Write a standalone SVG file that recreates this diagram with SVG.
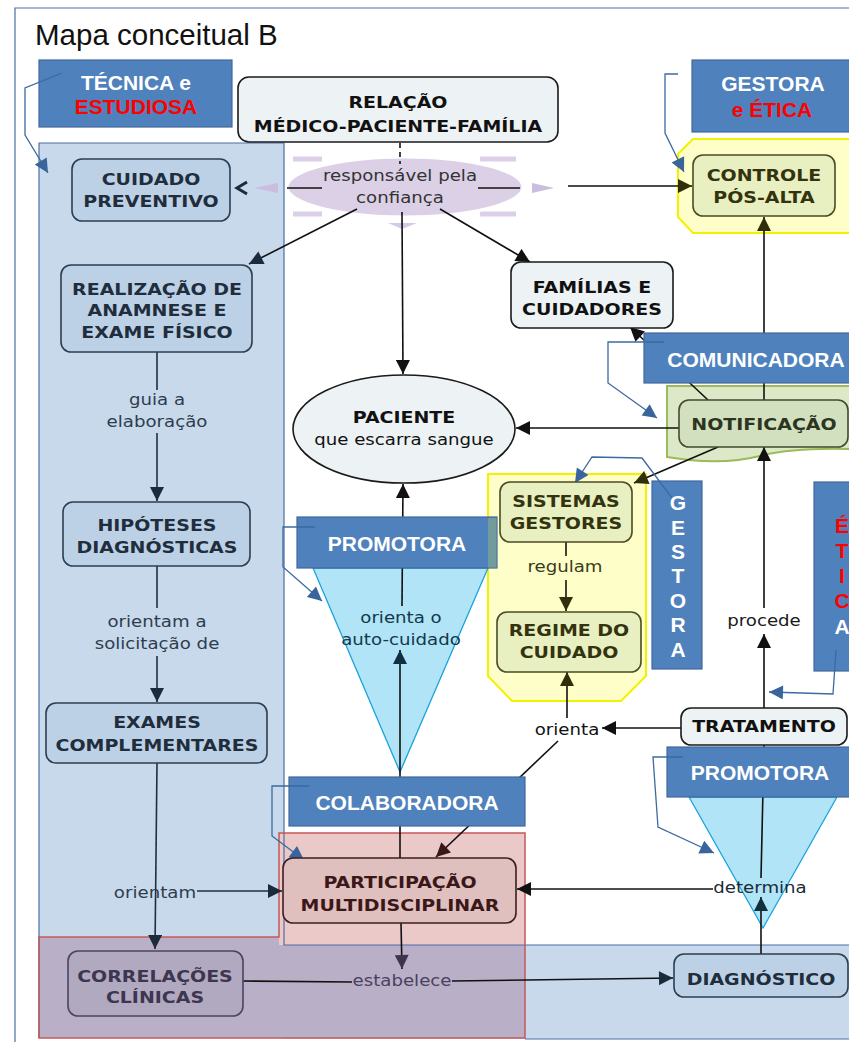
<svg xmlns="http://www.w3.org/2000/svg" width="849" height="1042" viewBox="0 0 849 1042">
<style>
.v{font-family:"DejaVu Sans",Verdana,sans-serif;text-anchor:middle;transform-box:fill-box;transform-origin:center;transform:scaleX(1.15)}
.b{font-weight:bold;font-size:16.5px}
.r{font-size:15.8px}
.a{font-family:"Liberation Sans",Arial,sans-serif;font-weight:bold;font-size:21px;text-anchor:middle;fill:#fff}
.red{fill:#f00}
.bl{fill:#4f81bd;stroke:#41689c;stroke-width:1.2}
.ln{fill:none;stroke:#111;stroke-width:1.6}
.lnN{fill:none;stroke:#1f2f40;stroke-width:1.6}
.co{fill:none;stroke:#3d6aa0;stroke-width:1.3;marker-end:url(#aB)}
.nl{fill:#edf2f4;stroke:#1a1a1a;stroke-width:1.6}
.nb{fill:#bdd1e6;stroke:#2c3e50;stroke-width:1.6}
.ny{fill:#e8efc0;stroke:#4b4b25;stroke-width:1.6}
.tk{fill:#111}
.tn{fill:#1f2d3d}
.ty{fill:#33330f}
</style>
<defs>
<marker id="aK" viewBox="0 0 10 10" refX="10" refY="5" markerWidth="15" markerHeight="14" markerUnits="userSpaceOnUse" orient="auto"><path d="M0,0L10,5L0,10z" fill="#111"/></marker>
<marker id="aN" viewBox="0 0 10 10" refX="10" refY="5" markerWidth="15" markerHeight="14" markerUnits="userSpaceOnUse" orient="auto"><path d="M0,0L10,5L0,10z" fill="#1c2b3c"/></marker>
<marker id="aO" viewBox="0 0 10 10" refX="10" refY="5" markerWidth="15" markerHeight="14" markerUnits="userSpaceOnUse" orient="auto"><path d="M0,0L10,5L0,10z" fill="#2f2f0c"/></marker>
<marker id="aM" viewBox="0 0 10 10" refX="10" refY="5" markerWidth="15" markerHeight="14" markerUnits="userSpaceOnUse" orient="auto"><path d="M0,0L10,5L0,10z" fill="#3a1818"/></marker>
<marker id="aT" viewBox="0 0 10 10" refX="10" refY="5" markerWidth="15" markerHeight="14" markerUnits="userSpaceOnUse" orient="auto"><path d="M0,0L10,5L0,10z" fill="#10303f"/></marker>
<marker id="aP" viewBox="0 0 10 10" refX="10" refY="5" markerWidth="15" markerHeight="14" markerUnits="userSpaceOnUse" orient="auto"><path d="M0,0L10,5L0,10z" fill="#3d3550"/></marker>
<marker id="aB" viewBox="0 0 10 10" refX="10" refY="5" markerWidth="16" markerHeight="14" markerUnits="userSpaceOnUse" orient="auto"><path d="M0,0L10,5L0,10z" fill="#3a659c"/></marker>
</defs>
<rect width="849" height="1042" fill="#fff"/>
<g id="frame">
<path d="M15,1042V8H849" fill="none" stroke="#4a6fa5" stroke-width="1.2"/>
<text x="35" y="45" font-family="Liberation Sans, Arial, sans-serif" font-size="29.5" fill="#111">Mapa conceitual B</text>
</g>
<g id="panels">
<rect x="39" y="143" width="245" height="895" fill="#c8d9ec"/>
<rect x="284" y="945" width="590" height="94" fill="#c8d9ec"/>
<path d="M39,937H279V945H525V1038H39Z" fill="#b9b0c8"/>
<rect x="279" y="833" width="246" height="112" fill="#ecc9c9"/>
<path d="M39,1038V143H284V945H874" fill="none" stroke="#4a6fa5" stroke-width="1.2"/>
<path d="M39,937H279V833H525V1038H39Z" fill="none" stroke="#c45a58" stroke-width="1.5"/>
<path d="M525,1039H874" fill="none" stroke="#4a6fa5" stroke-width="1.2"/>
</g>
<g id="regions">
<path d="M667,386H870V450Q800,446 760,456Q720,466 667,457Z" fill="#dde8c8" stroke="#9bbb59" stroke-width="2"/>
<polygon points="488,474 646,474 646,676 621,701 512,701 488,676" fill="#fefec8" stroke="#f2f200" stroke-width="2"/>
<polygon points="693,139 870,139 870,233 693,233 678,217 678,154" fill="#fefec8" stroke="#f2f200" stroke-width="2"/>
<polygon points="313,568 488,568 400,772" fill="#b0e4f6" stroke="#17a3de" stroke-width="1.3"/>
<polygon points="689,797 837,797 763,928" fill="#b0e4f6" stroke="#17a3de" stroke-width="1.3"/>
</g>
<g id="label-confianca">
<path d="M293,159H322M480,159H516M293,214H322M480,214H516" stroke="#dccfe8" stroke-width="5"/>
<ellipse cx="405" cy="187" rx="118" ry="30" fill="#dcd0e7" stroke="#fff" stroke-width="3"/>
<polygon points="254,188 278,183 278,193" fill="#cbbde0"/>
<polygon points="554,188 532,183 532,193" fill="#cbbde0"/>
<polygon points="388,223 417,223 402,229" fill="#d6c9e4"/>
<text class="v r" x="400" y="181" fill="#333">responsável pela</text>
<text class="v r" x="400" y="203" fill="#333">confiança</text>
</g>
<g id="connectors">
<line class="ln" x1="400" y1="143" x2="400" y2="164" stroke-dasharray="5 4"/>
<line class="ln" x1="287" y1="188" x2="322" y2="188"/>
<polyline points="247,182 237,188 247,194" fill="none" stroke="#1c2b3c" stroke-width="3"/>
<line class="ln" x1="478" y1="188" x2="520" y2="188"/>
<line class="ln" x1="568" y1="186" x2="692" y2="186" marker-end="url(#aO)"/>
<line class="ln" x1="357" y1="209" x2="249" y2="264" marker-end="url(#aN)"/>
<line class="ln" x1="440" y1="209" x2="530" y2="262" marker-end="url(#aK)"/>
<line class="ln" x1="402" y1="212" x2="403" y2="374" marker-end="url(#aK)"/>
<line class="ln" x1="679" y1="428" x2="516" y2="428" marker-end="url(#aK)"/>
<line class="ln" x1="708" y1="400" x2="630" y2="327" marker-end="url(#aK)"/>
<line class="ln" x1="764" y1="400" x2="764" y2="217" marker-end="url(#aO)"/>
<line class="ln" x1="718" y1="447" x2="634" y2="483" marker-end="url(#aO)"/>
<line class="ln" x1="566" y1="542" x2="566" y2="556" stroke="#3b3b1c"/>
<line class="ln" x1="566" y1="580" x2="566" y2="611" stroke="#3b3b1c" marker-end="url(#aO)"/>
<line class="ln" x1="764" y1="708" x2="764" y2="634" marker-end="url(#aK)"/>
<line class="ln" x1="764" y1="608" x2="764" y2="447" marker-end="url(#aK)"/>
<line class="ln" x1="681" y1="728" x2="602" y2="728" marker-end="url(#aK)"/>
<line class="ln" x1="567" y1="718" x2="567" y2="672" marker-end="url(#aO)"/>
<line class="ln" x1="558" y1="741" x2="436" y2="857" marker-end="url(#aM)"/>
<line class="ln" x1="400" y1="858" x2="400" y2="650" stroke="#10303f" marker-end="url(#aT)"/>
<line class="ln" x1="402" y1="606" x2="403" y2="484" marker-end="url(#aK)"/>
<line class="ln" x1="761" y1="954" x2="761" y2="897" stroke="#10303f" marker-end="url(#aT)"/>
<line class="ln" x1="761" y1="878" x2="764" y2="745" stroke="#10303f"/>
<line class="ln" x1="713" y1="889" x2="517" y2="889" marker-end="url(#aK)"/>
<line class="ln" x1="401" y1="923" x2="402" y2="969" stroke="#3d3550" marker-end="url(#aP)"/>
<line class="ln" x1="243" y1="981" x2="352" y2="982" stroke="#3d3550"/>
<line class="ln" x1="452" y1="981" x2="673" y2="978" stroke="#1f2f40" marker-end="url(#aN)"/>
<line class="lnN" x1="157" y1="352" x2="157" y2="390"/>
<line class="lnN" x1="157" y1="433" x2="157" y2="501" marker-end="url(#aN)"/>
<line class="lnN" x1="157" y1="566" x2="157" y2="608"/>
<line class="lnN" x1="157" y1="656" x2="157" y2="702" marker-end="url(#aN)"/>
<line class="lnN" x1="157" y1="763" x2="155" y2="949" marker-end="url(#aN)"/>
<line class="lnN" x1="197" y1="891" x2="282" y2="891" marker-end="url(#aN)"/>
<text class="v r" x="157" y="405" fill="#2e3d4d">guia a</text>
<text class="v r" x="157" y="427" fill="#2e3d4d">elaboração</text>
<text class="v r" x="157" y="627" fill="#2e3d4d">orientam a</text>
<text class="v r" x="157" y="649" fill="#2e3d4d">solicitação de</text>
<text class="v r" x="155" y="898" fill="#2e3d4d">orientam</text>
<text class="v r" x="565" y="572" fill="#3b3b1c">regulam</text>
<text class="v r" x="764" y="626" fill="#1a1a1a">procede</text>
<text class="v r" x="567" y="735" fill="#111">orienta</text>
<text class="v r" x="401" y="623" fill="#13394a">orienta o</text>
<text class="v r" x="401" y="645" fill="#13394a">auto-cuidado</text>
<text class="v r" x="760" y="893" fill="#1b2b35">determina</text>
<text class="v r" x="402" y="986" fill="#4a4060">estabelece</text>
</g>
<g id="b-tecnica"><rect class="bl" x="39" y="60" width="193" height="67"/><text class="a" x="136" y="90">TÉCNICA e</text><text class="a red" x="136" y="114">ESTUDIOSA</text></g>
<g id="b-gestora-etica"><rect class="bl" x="692" y="60" width="165" height="72"/><text class="a" x="773" y="91">GESTORA</text><text class="a red" x="772" y="117">e ÉTICA</text></g>
<g id="b-comunicadora"><rect class="bl" x="644" y="333" width="224" height="50"/><text class="a" x="756" y="367">COMUNICADORA</text></g>
<g id="b-promotora1"><rect class="bl" x="297" y="517" width="200" height="51"/><rect x="488" y="518" width="8.5" height="49.5" fill="#729c9c"/><text class="a" x="397" y="551">PROMOTORA</text></g>
<g id="b-gestora-v"><rect class="bl" x="652" y="481" width="50" height="188"/>
<text class="a" x="678" y="510">G</text><text class="a" x="678" y="535">E</text><text class="a" x="678" y="559">S</text><text class="a" x="678" y="583">T</text><text class="a" x="678" y="608">O</text><text class="a" x="678" y="632">R</text><text class="a" x="678" y="657">A</text></g>
<g id="b-etica-v"><rect class="bl" x="814" y="482" width="58" height="189"/>
<text class="a red" x="842" y="533">É</text><text class="a red" x="842" y="558">T</text><text class="a red" x="842" y="583">I</text><text class="a red" x="842" y="608">C</text><text class="a" x="842" y="634">A</text></g>
<g id="b-promotora2"><rect class="bl" x="667" y="747" width="187" height="50"/><text class="a" x="760" y="780">PROMOTORA</text></g>
<g id="b-colaboradora"><rect class="bl" x="289" y="777" width="236" height="49"/><text class="a" x="407" y="810">COLABORADORA</text></g>
<g id="callouts">
<path class="co" d="M62,73L25,88L25,135L48,173"/>
<path class="co" d="M678,74L665,74L665,133L684,172"/>
<path class="co" d="M664,342L608,342L608,383L657,418"/>
<path class="co" d="M672,498L642,458L592,457L575,483"/>
<path class="co" d="M836,650L833,694L769,692"/>
<path class="co" d="M315,527L283,527L283,567L322,601"/>
<path class="co" d="M309,786L272,786L272,836L304,860"/>
<path class="co" d="M683,757L653,757L658,827L714,853"/>
</g>
<g id="n-relacao"><rect class="nl" x="238" y="77" width="320" height="65" rx="11"/><text class="v b tk" x="398" y="108">RELAÇÃO</text><text class="v b tk" x="398" y="132">MÉDICO-PACIENTE-FAMÍLIA</text></g>
<g id="n-cuidado"><rect class="nb" x="72" y="159" width="158" height="62" rx="10"/><text class="v b tn" x="151" y="185">CUIDADO</text><text class="v b tn" x="151" y="207">PREVENTIVO</text></g>
<g id="n-realizacao"><rect class="nb" x="61" y="265" width="191" height="87" rx="10"/><text class="v b tn" x="157" y="295">REALIZAÇÃO DE</text><text class="v b tn" x="157" y="316">ANAMNESE E</text><text class="v b tn" x="157" y="338">EXAME FÍSICO</text></g>
<g id="n-hipoteses"><rect class="nb" x="63" y="502" width="187" height="64" rx="10"/><text class="v b tn" x="157" y="531">HIPÓTESES</text><text class="v b tn" x="157" y="553">DIAGNÓSTICAS</text></g>
<g id="n-exames"><rect class="nb" x="46" y="703" width="221" height="60" rx="10"/><text class="v b tn" x="157" y="728">EXAMES</text><text class="v b tn" x="157" y="751">COMPLEMENTARES</text></g>
<g id="n-correlacoes"><rect x="68" y="951" width="175" height="65" rx="10" fill="#b1a9c0" stroke="#4a4460" stroke-width="1.6"/><text class="v b" x="155" y="982" fill="#3d3650">CORRELAÇÕES</text><text class="v b" x="155" y="1003" fill="#3d3650">CLÍNICAS</text></g>
<g id="n-paciente"><ellipse class="nl" cx="404" cy="429" rx="111" ry="54"/><text class="v b tk" x="404" y="423">PACIENTE</text><text class="v r tk" x="404" y="445">que escarra sangue</text></g>
<g id="n-familias"><rect class="nl" x="511" y="262" width="162" height="66" rx="10"/><text class="v b tk" x="592" y="293">FAMÍLIAS E</text><text class="v b tk" x="592" y="315">CUIDADORES</text></g>
<g id="n-controle"><rect class="ny" x="693" y="155" width="142" height="61" rx="10"/><text class="v b ty" x="764" y="181">CONTROLE</text><text class="v b ty" x="764" y="203">PÓS-ALTA</text></g>
<g id="n-notificacao"><rect x="679" y="400" width="169" height="47" rx="10" fill="#d3e0c0" stroke="#3f4a30" stroke-width="1.6"/><text class="v b" x="764" y="430" fill="#2b3520">NOTIFICAÇÃO</text></g>
<g id="n-sistemas"><rect class="ny" x="500" y="482" width="132" height="60" rx="10"/><text class="v b ty" x="566" y="507">SISTEMAS</text><text class="v b ty" x="566" y="529">GESTORES</text></g>
<g id="n-regime"><rect class="ny" x="497" y="612" width="144" height="60" rx="10"/><text class="v b ty" x="569" y="636">REGIME DO</text><text class="v b ty" x="569" y="658">CUIDADO</text></g>
<g id="n-tratamento"><rect class="nl" x="681" y="708" width="166" height="37" rx="10"/><text class="v b tk" x="764" y="732">TRATAMENTO</text></g>
<g id="n-participacao"><rect x="283" y="858" width="233" height="65" rx="10" fill="#e0bfbf" stroke="#3b1f1f" stroke-width="1.6"/><text class="v b" x="400" y="888" fill="#3b1818">PARTICIPAÇÃO</text><text class="v b" x="400" y="911" fill="#3b1818">MULTIDISCIPLINAR</text></g>
<g id="n-diagnostico"><rect class="nb" x="674" y="954" width="174" height="43" rx="10"/><text class="v b tn" x="761" y="985">DIAGNÓSTICO</text></g>
</svg>
